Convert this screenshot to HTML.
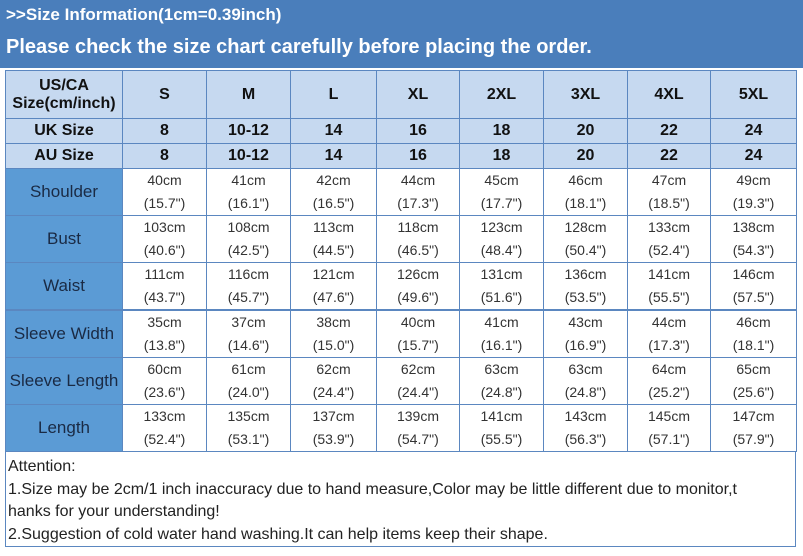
<!DOCTYPE html>
<html><head><meta charset="utf-8"><style>
body{margin:0;width:803px;height:556px;background:#fff;font-family:"Liberation Sans",Arial,sans-serif;position:relative;overflow:hidden}
#band{position:absolute;left:0;top:0;width:803px;height:68px;background:#4a7ebb}
.t1{position:absolute;left:6px;top:5px;color:#fff;font-weight:bold;font-size:17px}
.t2{position:absolute;left:6px;top:36px;color:#fff;font-weight:bold;font-size:20px}
.c{position:absolute;box-sizing:border-box;border:1px solid #5b87c0;display:flex;align-items:center;justify-content:center;text-align:center}
.h{background:#c6d9f0;font-weight:bold;font-size:16px;color:#111}
.l{background:#5b9bd5;font-size:17px;color:#1a2a44}
.d{background:#fff;font-size:14px;color:#333;line-height:23px}
#att{position:absolute;left:5px;top:451px;width:791px;height:96px;box-sizing:border-box;border:1px solid #5b87c0;font-size:16px;color:#222;padding:4px 0 0 2px;line-height:22.5px}
</style></head><body>
<div id="band">
<div class="t1">&gt;&gt;Size Information(1cm=0.39inch)</div>
<div class="t2">Please check the size chart carefully before placing the order.</div>
</div>
<div id="tbl"></div>
<div id="att">Attention:<br>1.Size may be 2cm/1 inch inaccuracy due to hand measure,Color may be little different due to monitor,t<br>hanks for your understanding!<br>2.Suggestion of cold water hand washing.It can help items keep their shape.</div>
<script>
const sizes=["S","M","L","XL","2XL","3XL","4XL","5XL"];
const uk=["8","10-12","14","16","18","20","22","24"];
const au=["8","10-12","14","16","18","20","22","24"];
const measures=["Shoulder","Bust","Waist","Sleeve Width","Sleeve Length","Length"];
const cm=[[40,41,42,44,45,46,47,49],[103,108,113,118,123,128,133,138],[111,116,121,126,131,136,141,146],[35,37,38,40,41,43,44,46],[60,61,62,62,63,63,64,65],[133,135,137,139,141,143,145,147]];
const inch=[["15.7","16.1","16.5","17.3","17.7","18.1","18.5","19.3"],["40.6","42.5","44.5","46.5","48.4","50.4","52.4","54.3"],["43.7","45.7","47.6","49.6","51.6","53.5","55.5","57.5"],["13.8","14.6","15.0","15.7","16.1","16.9","17.3","18.1"],["23.6","24.0","24.4","24.4","24.8","24.8","25.2","25.6"],["52.4","53.1","53.9","54.7","55.5","56.3","57.1","57.9"]];
const colX=[5,122,206,290,376,459,543,627,710,796];
const tbl=document.getElementById('tbl');
function cell(x,y,w,h,cls,html,name){const d=document.createElement('div');d.className='c '+cls;d.style.cssText=`left:${x}px;top:${y}px;width:${w+1}px;height:${h+1}px`;d.innerHTML=html;


tbl.appendChild(d);}
const hdr=[[70,48,"US/CA<br>Size(cm/inch)",sizes,"size-header"],[118,25,"UK Size",uk,"uk-size"],[143,25,"AU Size",au,"au-size"]];
hdr.forEach(r=>{cell(colX[0],r[0],colX[1]-colX[0],r[1],'h',r[2],r[4]+'-label');r[3].forEach((v,i)=>cell(colX[i+1],r[0],colX[i+2]-colX[i+1],r[1],'h',v,r[4]+'-'+sizes[i].toLowerCase()));});
measures.forEach((m,j)=>{const y=168+j*47.2;cell(colX[0],y,colX[1]-colX[0],47,'l',m,m.toLowerCase().replace(' ','-')+'-label');
sizes.forEach((s,i)=>cell(colX[i+1],y,colX[i+2]-colX[i+1],47,'d',cm[j][i]+'cm<br>('+inch[j][i]+'")',m.toLowerCase().replace(' ','-')+'-'+s.toLowerCase()));});
</script>
</body></html>
